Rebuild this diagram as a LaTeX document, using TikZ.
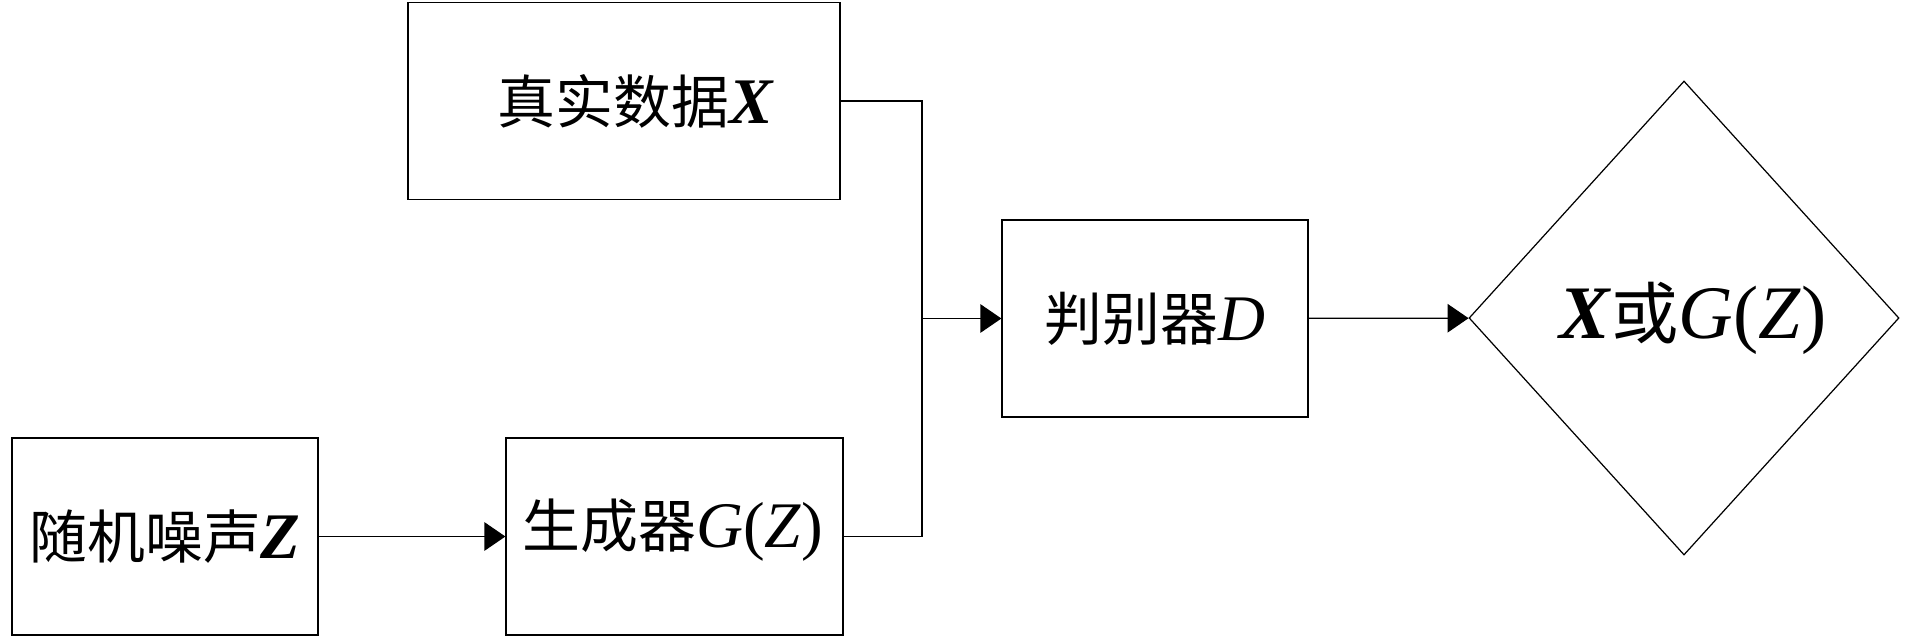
\documentclass[tikz,border=0pt]{standalone}
\usepackage{fontspec}
\setmainfont{Liberation Serif}
\newfontfamily\cjk[Scale=0.89]{Noto Sans CJK SC}
\usepackage{tikz}
\usetikzlibrary{shapes.geometric,arrows.meta}

\begin{document}
\begin{tikzpicture}[
	box/.style={draw=black,line width=0.7pt,minimum height=3.94cm,inner sep=0pt},
	arr/.style={black,line width=0.7pt,-{Triangle[length=4.2mm,width=5.7mm]}},
	font=\fontsize{37}{40}\selectfont]
	\useasboundingbox (0,0) rectangle (38.26,-12.76);
	\node[box,minimum width=8.64cm] (real) at (12.48,-2.02) {};
	\node () at (12.72,-2.02) {{\cjk 真实数据}\textbf{\textit{X}}};
	\node[box,minimum width=6.12cm] (noise) at (3.30,-10.73) {{\cjk 随机噪声}\textbf{\textit{Z}}};
	\node[box,minimum width=6.74cm] (gen) at (13.49,-10.73) {};
	\node () at (13.46,-10.60) {{\cjk 生成器}\textit{G}(\textit{Z})};
	\node[box,minimum width=6.12cm] (disc) at (23.10,-6.37) {{\cjk 判别器}\textit{D}};
	\node[draw=black,line width=0.7pt,diamond,minimum width=8.6cm,minimum height=9.48cm,inner sep=0pt] (out) at (33.68,-6.36) {};
	\node[font=\fontsize{43}{46}\selectfont] () at (33.86,-6.36) {\textbf{\textit{X}}{\cjk 或}\textit{G}(\textit{Z})};
	\coordinate (j) at (18.44,-6.37);
	\draw[black,line width=0.7pt] (real.east) -| (j) |- (gen.east);
	\draw[arr] (noise) -- (gen);
	\draw[arr] (j) -- (disc);
	\draw[arr] (disc) -- (out);
\end{tikzpicture}
\end{document}
